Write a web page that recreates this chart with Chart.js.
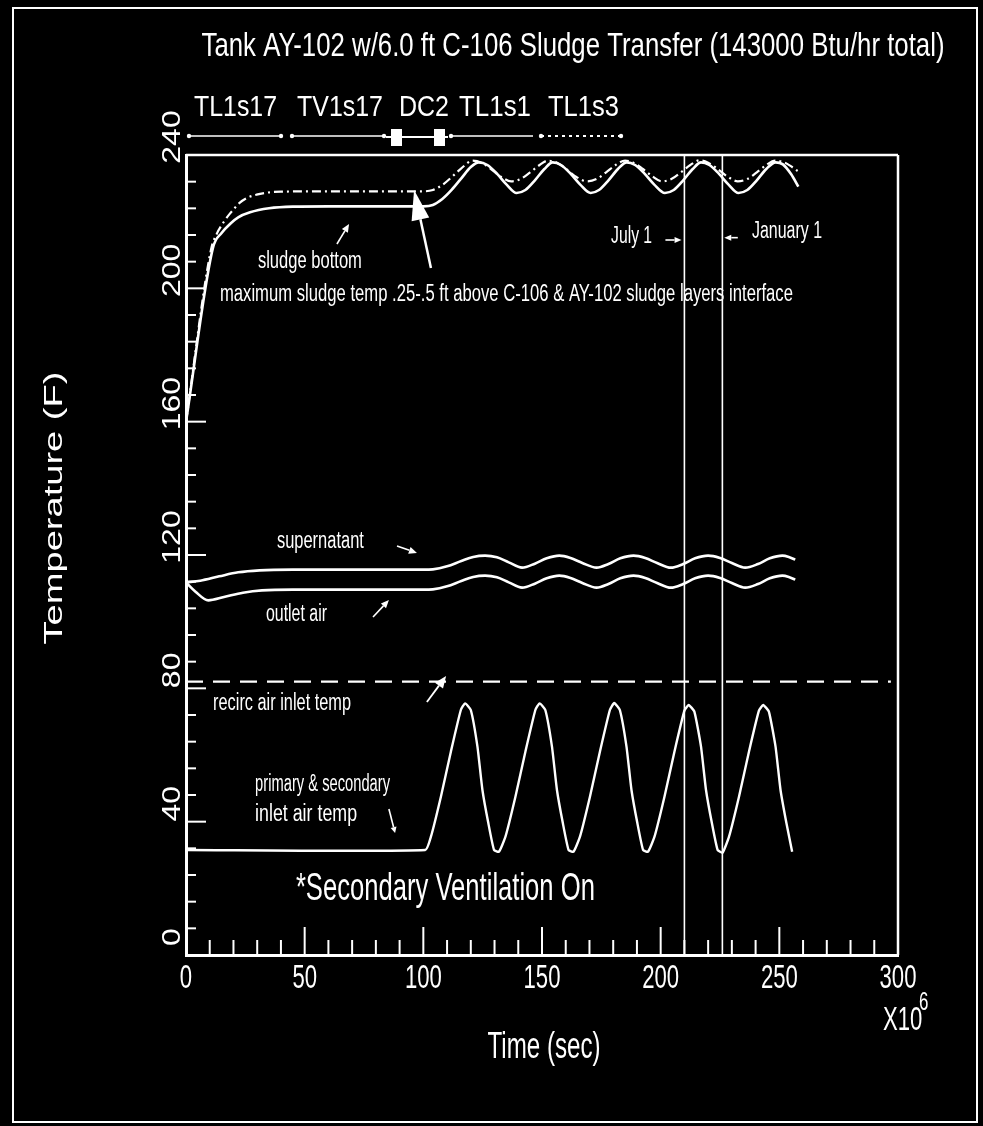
<!DOCTYPE html>
<html>
<head>
<meta charset="utf-8">
<title>Tank AY-102 sludge transfer temperatures</title>
<script src="https://cdn.jsdelivr.net/npm/chart.js@4.4.1/dist/chart.umd.min.js"></script>
<style>
  html, body { margin: 0; padding: 0; background: #000; }
  #wrap { width: 983px; height: 1126px; }
  canvas { display: block; }
</style>
</head>
<body>
<div id="wrap"><canvas id="chart" width="983" height="1126"></canvas></div>
<script>
// ---- Series: [time (x10^6 s), temperature (F)] ----
const sludgeBottom = [
  [0,160],[11.3,212],[15,216.6],[19,219.6],[22,221.3],[27,222.8],[35,224],[45,224.5],[60,224.6],[100,224.6],
  [104,225],[108,226.8],[112,229.6],[116,233],[120,236.4],[123.4,237.8],[127,237],[131,234.4],[135,231.2],
  [139.3,228.6],[143,229.5],[147,232.4],[151,235.8],[154.5,237.8],[158,237],[162,234.4],[166,231.2],
  [170.5,228.6],[174,229.5],[178,232.4],[182,235.8],[185.7,237.8],[189.2,237],[193.2,234.4],[197.2,231.2],
  [201.8,228.6],[205.5,229.5],[209.5,232.4],[213.5,235.8],[217,237.8],[220.5,237],[224.5,234.4],[228.5,231.2],
  [232.8,228.6],[236.5,229.5],[240.5,232.4],[244.5,235.8],[248.4,237.8],[251.5,237.2],[255,234.2],[258,230.5]
];
const maxSludge = [
  [0,160],[10.5,211.5],[13,216.4],[16,220],[18.5,222.4],[22.7,225.7],[26,227.2],[29.7,228.1],[34,228.7],
  [40,229],[60,229.1],[100,229.1],[104,229.5],[108,231],[112,233.4],[116,236],[120.8,238.3],[124.5,237.7],
  [128.5,235.8],[132.5,233.6],[137,232.1],[141,232.8],[145,234.8],[149,237],[152.5,238.3],[156.5,237.6],
  [160.5,235.6],[164.5,233.4],[169,232.1],[173,232.8],[177,234.8],[181,237],[185,238.3],[188.5,237.7],
  [192.5,235.8],[196.5,233.6],[200.5,232.1],[204.5,232.8],[208.5,234.8],[212.5,237],[216.4,238.4],
  [220,237.7],[224,235.8],[228,233.6],[232.5,232.1],[236.5,232.8],[240.5,234.8],[244.5,237],[248.2,238.3],
  [251.5,237.9],[254.5,236.8],[257.7,235.2]
];
const supernatant = [
  [0,111.8],[6,112.3],[14,113.6],[22,114.8],[31,115.4],[45,115.6],[70,115.6],[100,115.6],[104,115.7],
  [110,116.6],[116,118.2],[121,119.4],[126,119.8],[131,119.3],[136,117.8],[141.6,116.2],[147,117.4],
  [152,119],[157.3,119.8],[162,119.1],[167,117.6],[173,116.2],[178,117.3],[183,119],[188.6,119.8],
  [193.5,119.1],[198.5,117.6],[204.3,116.2],[209.5,117.3],[214.5,119],[220,119.8],[225,119.1],[230,117.6],
  [235.6,116.2],[241,117.3],[246,119],[251.3,119.8],[254,119.4],[256.7,118.6]
];
const outletAir = [
  [0,111.8],[4,109],[9.4,106.4],[16,107.4],[24,108.7],[32,109.4],[45,109.6],[100,109.6],[104,109.7],
  [110,110.6],[116,112.2],[121,113.4],[126,113.8],[131,113.3],[136,111.8],[141.6,110.2],[147,111.4],
  [152,113],[157.3,113.8],[162,113.1],[167,111.6],[173,110.2],[178,111.3],[183,113],[188.6,113.8],
  [193.5,113.1],[198.5,111.6],[204.3,110.2],[209.5,111.3],[214.5,113],[220,113.8],[225,113.1],[230,111.6],
  [235.6,110.2],[241,111.3],[246,113],[251.3,113.8],[254,113.4],[256.7,112.6]
];
const recircInlet = [[0,82],[297,82]];
const inletAir = [
  [0,31.5],[100.8,31.5],[103.2,35.5],[107.4,47.5],[111.6,61],[115.8,73.5],[117.6,75.5],[120,73.5],
  [122.8,62.5],[124.9,49.5],[127.4,39.5],[129.8,31.5],[131.9,31],
  [134.6,35.5],[138.8,47.5],[143,61],[147.2,73.5],[149,75.5],[151.4,73.5],[154.2,62.5],[156.3,49.5],
  [158.8,39.5],[161.2,31.5],[163.3,31],
  [166,35.5],[170.2,47.5],[174.4,61],[178.6,73.5],[180.4,75.6],[182.8,73.5],[185.6,62.5],[187.7,49.5],
  [190.2,39.5],[192.6,31.5],[194.7,31],
  [197.4,35.5],[201.6,47.5],[205.8,61],[210,73.3],[211.8,75],[214.2,73],[217,62.5],[219.1,49.5],
  [221.6,39.5],[224,31.5],[226.1,30.7],
  [228.8,35.5],[233,47.5],[237.2,61],[241.4,73.3],[243.2,75],[245.6,73],[248.4,62.5],[250.5,49.5],
  [253,39.5],[255.4,31]
];
const july1 = [[210,0],[210,240]];
const january1 = [[226,0],[226,240]];

// ---- Axis and key labels ----
const xTickLabels = [0, 50, 100, 150, 200, 250, 300];
const yTickLabels = [0, 40, 80, 120, 160, 200, 240];
const sensorLabels = ['TL1s17', 'TV1s17', 'DC2', 'TL1s1', 'TL1s3'];

const FONT = '"Liberation Sans", Arial, Helvetica, sans-serif';
const WHITE = '#ffffff';

const pts = arr => arr.map(p => ({ x: p[0], y: p[1] }));

// Text placed in data units (time, temp) with a left anchor on the baseline
const notes = [
  { text: 'sludge bottom', t: 30.3, v: 206.1, size: 23, width: 104 },
  { text: 'maximum sludge temp .25-.5 ft above C-106 & AY-102 sludge layers interface', t: 14.3, v: 196.2, size: 23, width: 573 },
  { text: 'July 1', t: 179.1, v: 213.6, size: 23, width: 41 },
  { text: 'January 1', t: 238.5, v: 215, size: 23, width: 70 },
  { text: 'supernatant', t: 38.3, v: 122.1, size: 23, width: 87 },
  { text: 'outlet air', t: 33.7, v: 100.2, size: 23, width: 61 },
  { text: 'recirc air inlet temp', t: 11.4, v: 73.5, size: 23, width: 138 },
  { text: 'primary & secondary', t: 29.1, v: 49.2, size: 23, width: 135 },
  { text: 'inlet air temp', t: 29.1, v: 40.2, size: 23, width: 102 },
  { text: '*Secondary Ventilation On', t: 46.3, v: 16.5, size: 38, width: 299 }
];
const pointers = [
  { from: [63.6, 213.3], to: [68.7, 219.3], head: 8, half: 3.5, lw: 1.6 },
  { from: [103.2, 206.1], to: [96.1, 229.5], head: 30, half: 9, lw: 2.5 },
  { from: [202, 214.5], to: [208.8, 214.5], head: 7, half: 3, lw: 1.6 },
  { from: [232.5, 215.2], to: [226.8, 215.2], head: 7, half: 3, lw: 1.6 },
  { from: [88.9, 122.7], to: [97.3, 120.6], head: 8, half: 3.5, lw: 1.6 },
  { from: [78.8, 101.4], to: [85.5, 106.5], head: 8, half: 3.5, lw: 1.6 },
  { from: [101.5, 75.9], to: [109.6, 83.7], head: 12, half: 5, lw: 1.8 },
  { from: [85.5, 43.8], to: [88.1, 36.6], head: 6, half: 3, lw: 1.6 }
];

// Draws text squeezed/stretched to a given width, optionally rotated to read bottom-to-top
function label(ctx, s, x, y, size, o) {
  ctx.save();
  ctx.font = size + 'px ' + FONT;
  ctx.fillStyle = WHITE;
  ctx.textBaseline = 'alphabetic';
  ctx.textAlign = o.align || 'left';
  const w = ctx.measureText(s).width;
  const k = o.width ? o.width / w : (o.squeeze || 1);
  ctx.translate(x, y);
  if (o.rotate) {
    ctx.scale(o.across || 0.75, k);
    ctx.rotate(-Math.PI / 2);
  } else {
    ctx.scale(k, 1);
  }
  ctx.fillText(s, 0, 0);
  ctx.restore();
}

function arrow(ctx, x1, y1, x2, y2, head, half, lw) {
  const a = Math.atan2(y2 - y1, x2 - x1);
  const bx = x2 - head * Math.cos(a), by = y2 - head * Math.sin(a);
  ctx.save();
  ctx.strokeStyle = WHITE; ctx.fillStyle = WHITE; ctx.lineWidth = lw;
  ctx.beginPath(); ctx.moveTo(x1, y1); ctx.lineTo(bx, by); ctx.stroke();
  ctx.beginPath();
  ctx.moveTo(x2, y2);
  ctx.lineTo(bx + half * Math.sin(a), by - half * Math.cos(a));
  ctx.lineTo(bx - half * Math.sin(a), by + half * Math.cos(a));
  ctx.closePath(); ctx.fill();
  ctx.restore();
}

function seg(ctx, x1, y1, x2, y2, lw, dash) {
  ctx.save();
  ctx.strokeStyle = WHITE; ctx.lineWidth = lw;
  ctx.setLineDash(dash || []);
  ctx.beginPath(); ctx.moveTo(x1, y1); ctx.lineTo(x2, y2); ctx.stroke();
  ctx.restore();
}

function dot(ctx, x, y, r) {
  ctx.save(); ctx.fillStyle = WHITE;
  ctx.beginPath(); ctx.arc(x, y, r, 0, Math.PI * 2); ctx.fill();
  ctx.restore();
}

const blackBackground = {
  id: 'blackBackground',
  beforeDraw(chart) {
    const c = chart.ctx;
    c.save(); c.fillStyle = '#000'; c.fillRect(0, 0, chart.width, chart.height); c.restore();
  }
};

const plotDressing = {
  id: 'plotDressing',
  afterDraw(chart) {
    const c = chart.ctx;
    const xs = chart.scales.x, ys = chart.scales.y;
    const A = chart.chartArea;
    const X = t => xs.getPixelForValue(t);
    const Y = v => ys.getPixelForValue(v);

    // page border
    c.save(); c.strokeStyle = WHITE; c.lineWidth = 2;
    c.strokeRect(13, 8, 964, 1114); c.restore();

    // plot frame (top and right)
    seg(c, A.left, A.top, A.right, A.top, 2.5);
    seg(c, A.right, A.top, A.right, A.bottom, 2.5);

    // inward ticks
    for (let t = 10; t < 300; t += 10) {
      const len = t % 50 === 0 ? 28 : 15;
      seg(c, X(t), A.bottom, X(t), A.bottom - len, 2);
    }
    for (let v = 8; v <= 240; v += 8) {
      const len = v % 40 === 0 ? 20 : 10;
      seg(c, A.left, Y(v), A.left + len, Y(v), 2);
    }

    // tick labels
    xTickLabels.forEach(t => label(c, String(t), X(t), 988, 34, { align: 'center', squeeze: 0.65 }));
    label(c, 'X10', 883, 1030, 34, { squeeze: 0.65 });
    label(c, '6', 919, 1010, 26, { squeeze: 0.65 });
    yTickLabels.forEach(v => label(c, String(v), 180, Y(v) - 18, 32, { align: 'center', rotate: true, across: 0.78 }));

    // axis titles and chart title
    label(c, 'Time (sec)', 544, 1058, 37, { align: 'center', width: 113 });
    label(c, 'Temperature (F)', 62, 508, 37, { align: 'center', rotate: true, across: 0.68, width: 273 });
    label(c, 'Tank AY-102 w/6.0 ft C-106 Sludge Transfer (143000 Btu/hr total)', 573, 56, 33, { align: 'center', width: 743 });

    // sensor key above the plot
    const keyLeft = [194, 297, 399, 459, 548];
    const keyWidth = [83, 86, 50, 72, 71];
    sensorLabels.forEach((s, i) => label(c, s, keyLeft[i], 116, 29, { width: keyWidth[i] }));
    seg(c, 189, 136, 281, 136, 1.6); dot(c, 189, 136, 2.2); dot(c, 281, 136, 2.2);
    seg(c, 292, 136, 384, 136, 1.6); dot(c, 292, 136, 2.2); dot(c, 384, 136, 2.2);
    seg(c, 386, 137, 448, 137, 2);
    c.save(); c.fillStyle = WHITE; c.fillRect(391, 129, 11, 17); c.fillRect(434, 129, 11, 17); c.restore();
    seg(c, 451, 136, 533, 136, 1.6); dot(c, 451, 136, 2.2);
    seg(c, 541, 136, 621, 136, 2, [3, 4]); dot(c, 541, 136, 2.2); dot(c, 621, 136, 2.2);

    // curve annotations
    notes.forEach(n => label(c, n.text, X(n.t), Y(n.v), n.size, { width: n.width }));
    pointers.forEach(p => arrow(c, X(p.from[0]), Y(p.from[1]), X(p.to[0]), Y(p.to[1]), p.head, p.half, p.lw));
  }
};

const lineBase = { borderColor: WHITE, pointRadius: 0, fill: false };

new Chart(document.getElementById('chart'), {
  type: 'line',
  data: {
    datasets: [
      { ...lineBase, label: 'sludge bottom', data: pts(sludgeBottom), borderWidth: 2.6, cubicInterpolationMode: 'monotone' },
      { ...lineBase, label: 'maximum sludge temp', data: pts(maxSludge), borderWidth: 2.2, borderDash: [9, 4, 2, 4], cubicInterpolationMode: 'monotone' },
      { ...lineBase, label: 'supernatant', data: pts(supernatant), borderWidth: 2.6, cubicInterpolationMode: 'monotone' },
      { ...lineBase, label: 'outlet air', data: pts(outletAir), borderWidth: 2.6, cubicInterpolationMode: 'monotone' },
      { ...lineBase, label: 'recirc air inlet temp', data: pts(recircInlet), borderWidth: 2.4, borderDash: [17, 10] },
      { ...lineBase, label: 'primary & secondary inlet air temp', data: pts(inletAir), borderWidth: 2.4, tension: 0.15 },
      { ...lineBase, label: 'July 1', data: pts(july1), borderWidth: 1.6 },
      { ...lineBase, label: 'January 1', data: pts(january1), borderWidth: 1.6 }
    ]
  },
  options: {
    responsive: false,
    animation: false,
    events: [],
    layout: { padding: { left: 186, right: 85, top: 155, bottom: 171 } },
    plugins: { legend: { display: false }, tooltip: { enabled: false }, title: { display: false } },
    scales: {
      x: {
        type: 'linear', min: 0, max: 300,
        ticks: { display: false },
        grid: { display: false, drawTicks: false },
        border: { display: true, color: WHITE, width: 3 },
        afterFit(s) { s.height = 0; }
      },
      y: {
        type: 'linear', min: 0, max: 240,
        ticks: { display: false },
        grid: { display: false, drawTicks: false },
        border: { display: true, color: WHITE, width: 3 },
        afterFit(s) { s.width = 0; }
      }
    }
  },
  plugins: [blackBackground, plotDressing]
});
</script>
</body>
</html>
